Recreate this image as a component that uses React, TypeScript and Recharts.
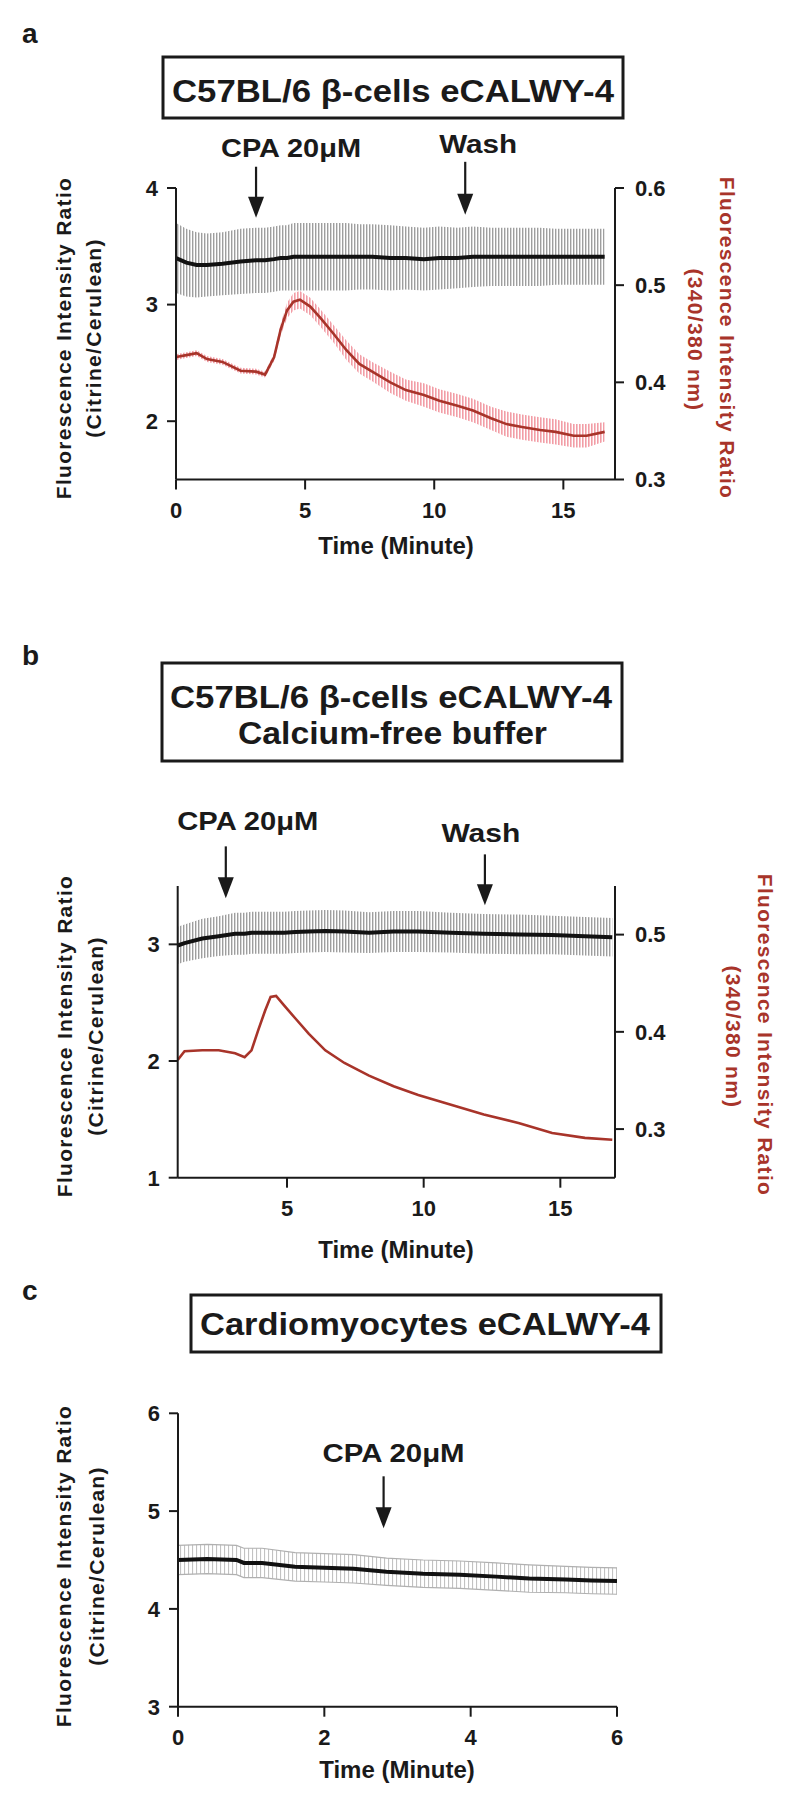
import React from 'react';
import { ComposedChart, Line, Area, XAxis, YAxis, ReferenceDot } from 'recharts';

const FONT = "'Liberation Sans', Arial, Helvetica, sans-serif";
const INK = '#1a1a1a';
const RED = '#a8342a';

// ---------- Panel a ----------
const timeA = [0, 0.4, 0.8, 1.2, 1.8, 2.5, 3.1, 3.45, 3.8, 4.05, 4.3, 4.55, 4.8, 5.2, 5.6, 6.1, 6.6, 7.1, 7.6, 8.3, 8.9, 9.6, 10.2, 10.9, 11.5, 12.2, 12.8, 13.4, 14.1, 14.7, 15.4, 15.9, 16.6];
const zincA = [3.40, 3.36, 3.34, 3.34, 3.35, 3.37, 3.38, 3.38, 3.39, 3.40, 3.40, 3.41, 3.41, 3.41, 3.41, 3.41, 3.41, 3.41, 3.41, 3.40, 3.40, 3.39, 3.40, 3.40, 3.41, 3.41, 3.41, 3.41, 3.41, 3.41, 3.41, 3.41, 3.41];
const zincSemA = [0.30, 0.29, 0.28, 0.27, 0.27, 0.28, 0.28, 0.28, 0.28, 0.28, 0.28, 0.29, 0.29, 0.29, 0.29, 0.29, 0.29, 0.28, 0.28, 0.28, 0.27, 0.27, 0.27, 0.26, 0.26, 0.25, 0.25, 0.25, 0.25, 0.24, 0.24, 0.24, 0.24];
const calciumA = [0.426, 0.428, 0.430, 0.424, 0.421, 0.412, 0.411, 0.408, 0.426, 0.454, 0.474, 0.483, 0.485, 0.478, 0.466, 0.450, 0.433, 0.419, 0.411, 0.400, 0.392, 0.387, 0.381, 0.376, 0.371, 0.363, 0.357, 0.354, 0.351, 0.349, 0.345, 0.345, 0.349];
const calciumSemA = [0.003, 0.003, 0.003, 0.003, 0.003, 0.003, 0.003, 0.003, 0.004, 0.006, 0.008, 0.009, 0.009, 0.009, 0.009, 0.009, 0.010, 0.010, 0.010, 0.011, 0.011, 0.012, 0.012, 0.012, 0.012, 0.012, 0.013, 0.013, 0.013, 0.013, 0.012, 0.012, 0.010];

// ---------- Panel b ----------
const timeB = [1.0, 1.25, 1.9, 2.5, 3.1, 3.45, 3.7, 3.95, 4.2, 4.4, 4.6, 4.9, 5.3, 5.8, 6.4, 7.1, 8.0, 8.9, 9.8, 11.0, 12.2, 13.5, 14.7, 15.9, 16.9];
const zincB = [2.99, 3.01, 3.05, 3.07, 3.09, 3.09, 3.10, 3.10, 3.10, 3.10, 3.10, 3.10, 3.105, 3.11, 3.115, 3.11, 3.10, 3.11, 3.11, 3.10, 3.09, 3.085, 3.08, 3.07, 3.06];
const zincSemB = [0.16, 0.16, 0.17, 0.17, 0.18, 0.18, 0.18, 0.18, 0.18, 0.18, 0.18, 0.18, 0.18, 0.18, 0.18, 0.18, 0.175, 0.175, 0.175, 0.17, 0.17, 0.17, 0.165, 0.165, 0.165];
const calciumB = [0.371, 0.380, 0.381, 0.381, 0.378, 0.374, 0.381, 0.402, 0.422, 0.436, 0.437, 0.427, 0.414, 0.398, 0.381, 0.368, 0.355, 0.344, 0.335, 0.325, 0.315, 0.306, 0.296, 0.291, 0.289];

// ---------- Panel c ----------
const timeC = [0, 0.4, 0.8, 0.9, 1.15, 1.6, 2.0, 2.4, 2.85, 3.35, 3.85, 4.35, 4.8, 5.3, 5.65, 6.0];
const zincC = [4.50, 4.51, 4.50, 4.47, 4.47, 4.43, 4.42, 4.41, 4.38, 4.36, 4.35, 4.33, 4.31, 4.30, 4.29, 4.285];
const zincSemC = [0.15, 0.15, 0.15, 0.15, 0.15, 0.145, 0.145, 0.145, 0.14, 0.14, 0.14, 0.14, 0.14, 0.135, 0.135, 0.135];

// ---------- Ticks ----------
const xTicksA = [0, 5, 10, 15];
const yTicksA = [2, 3, 4];
const y2TicksA = [0.3, 0.4, 0.5, 0.6];
const xTicksB = [5, 10, 15];
const yTicksB = [1, 2, 3];
const y2TicksB = [0.3, 0.4, 0.5];
const xTicksC = [0, 2, 4, 6];
const yTicksC = [3, 4, 5, 6];

const rowsA = timeA.map((t, i) => ({
  t,
  zinc: zincA[i],
  zincBand: [zincA[i] - zincSemA[i], zincA[i] + zincSemA[i]],
  calcium: calciumA[i],
  calciumBand: [calciumA[i] - calciumSemA[i], calciumA[i] + calciumSemA[i]],
}));
const rowsB = timeB.map((t, i) => ({
  t,
  zinc: zincB[i],
  zincBand: [zincB[i] - zincSemB[i], zincB[i] + zincSemB[i]],
  calcium: calciumB[i],
}));
const rowsC = timeC.map((t, i) => ({
  t,
  zinc: zincC[i],
  zincBand: [zincC[i] - zincSemC[i], zincC[i] + zincSemC[i]],
}));

const tickStyle = { fontSize: 22, fontWeight: 'bold', fill: INK, fontFamily: FONT };
const lineStyle = { stroke: INK, strokeWidth: 2 };

const makeArrow = (label: string, shaft: number, dx: number, dy: number, len: number) => (props: any) => {
  const { cx, cy } = props;
  if (cx == null || cy == null) return <g />;
  return (
    <g>
      <line x1={cx} y1={cy - shaft} x2={cx} y2={cy - 16} stroke={INK} strokeWidth={2.2} />
      <polygon points={`${cx - 8},${cy - 21} ${cx + 8},${cy - 21} ${cx},${cy}`} fill={INK} />
      <text x={cx + dx} y={cy - dy} textAnchor="middle" fontFamily={FONT} fontWeight="bold" fontSize={26} fill={INK} textLength={len} lengthAdjust="spacingAndGlyphs">
        {label}
      </text>
    </g>
  );
};

const Patterns = () => (
  <defs>
    <pattern id="greyStripes" patternUnits="userSpaceOnUse" width="3" height="10">
      <rect x="0" y="0" width="1.4" height="10" fill="#9e9e9e" />
    </pattern>
    <pattern id="pinkStripes" patternUnits="userSpaceOnUse" width="3" height="10">
      <rect x="0" y="0" width="1.6" height="10" fill="#f08c96" />
    </pattern>
    <pattern id="lightStripes" patternUnits="userSpaceOnUse" width="4" height="10">
      <rect x="0" y="0" width="1.1" height="10" fill="#c2c2c2" />
    </pattern>
  </defs>
);

const boxText = { fontFamily: FONT, fontWeight: 'bold' as const, fill: INK };
const yLab = { fontFamily: FONT, fontWeight: 'bold' as const, fontSize: 21, letterSpacing: 1.3 };

export default function App() {
  return (
    <div style={{ position: 'absolute', left: 0, top: 0, width: 800, height: 1809, background: '#fff', overflow: 'hidden' }}>
      {/* Panel a chart */}
      <div style={{ position: 'absolute', left: 0, top: 90 }}>
        <ComposedChart width={800} height={500} data={rowsA} margin={{ top: 98, left: 116, right: 125, bottom: 80.5 }}>
          <Patterns />
          <XAxis dataKey="t" type="number" domain={[0, 17]} ticks={xTicksA} allowDataOverflow height={30}
            tick={tickStyle} tickSize={10} tickMargin={13} axisLine={lineStyle} tickLine={lineStyle} />
          <YAxis yAxisId="L" orientation="left" width={60} domain={[1.5, 4]} ticks={yTicksA} allowDataOverflow
            tick={tickStyle} tickSize={9} tickMargin={9} axisLine={lineStyle} tickLine={lineStyle} />
          <YAxis yAxisId="R" orientation="right" width={60} domain={[0.3, 0.6]} ticks={y2TicksA} allowDataOverflow
            tick={tickStyle} tickSize={9} tickMargin={11} axisLine={lineStyle} tickLine={lineStyle}
            tickFormatter={(v: number) => v.toFixed(1)} />
          <Area yAxisId="L" dataKey="zincBand" stroke="none" fill="url(#greyStripes)" fillOpacity={1} isAnimationActive={false} dot={false} activeDot={false} />
          <Area yAxisId="R" dataKey="calciumBand" stroke="none" fill="url(#pinkStripes)" fillOpacity={0.85} isAnimationActive={false} dot={false} activeDot={false} />
          <Line yAxisId="R" dataKey="calcium" stroke={RED} strokeWidth={2.6} dot={false} activeDot={false} isAnimationActive={false} />
          <Line yAxisId="L" dataKey="zinc" stroke="#111" strokeWidth={4} dot={false} activeDot={false} isAnimationActive={false} />
          <ReferenceDot yAxisId="L" x={3.1} y={3.745} ifOverflow="visible" shape={makeArrow('CPA 20\u03BCM', 51, 35, 61, 140)} />
          <ReferenceDot yAxisId="L" x={11.2} y={3.77} ifOverflow="visible" shape={makeArrow('Wash', 53, 13, 62, 78)} />
        </ComposedChart>
      </div>

      {/* Panel b chart */}
      <div style={{ position: 'absolute', left: 0, top: 780 }}>
        <ComposedChart width={800} height={500} data={rowsB} margin={{ top: 106, left: 117.7, right: 125, bottom: 72.3 }}>
          <Patterns />
          <XAxis dataKey="t" type="number" domain={[1, 17]} ticks={xTicksB} allowDataOverflow height={30}
            tick={tickStyle} tickSize={10} tickMargin={13} axisLine={lineStyle} tickLine={lineStyle} />
          <YAxis yAxisId="L" orientation="left" width={60} domain={[1, 3.5]} ticks={yTicksB} allowDataOverflow
            tick={tickStyle} tickSize={9} tickMargin={9} axisLine={lineStyle} tickLine={lineStyle} />
          <YAxis yAxisId="R" orientation="right" width={60} domain={[0.25, 0.55]} ticks={y2TicksB} allowDataOverflow
            tick={tickStyle} tickSize={9} tickMargin={11} axisLine={lineStyle} tickLine={lineStyle}
            tickFormatter={(v: number) => v.toFixed(1)} />
          <Area yAxisId="L" dataKey="zincBand" stroke="none" fill="url(#greyStripes)" fillOpacity={1} isAnimationActive={false} dot={false} activeDot={false} />
          <Line yAxisId="R" dataKey="calcium" stroke={RED} strokeWidth={2.6} dot={false} activeDot={false} isAnimationActive={false} />
          <Line yAxisId="L" dataKey="zinc" stroke="#111" strokeWidth={4} dot={false} activeDot={false} isAnimationActive={false} />
          <ReferenceDot yAxisId="L" x={2.76} y={3.394} ifOverflow="visible" shape={makeArrow('CPA 20\u03BCM', 52, 22, 68, 141)} />
          <ReferenceDot yAxisId="L" x={12.24} y={3.334} ifOverflow="visible" shape={makeArrow('Wash', 51, -4, 63, 79)} />
        </ComposedChart>
      </div>

      {/* Panel c chart */}
      <div style={{ position: 'absolute', left: 0, top: 1340 }}>
        <ComposedChart width={800} height={460} data={rowsC} margin={{ top: 73.3, left: 118, right: 183, bottom: 63.3 }}>
          <Patterns />
          <XAxis dataKey="t" type="number" domain={[0, 6]} ticks={xTicksC} allowDataOverflow height={30}
            tick={tickStyle} tickSize={10} tickMargin={13} axisLine={lineStyle} tickLine={lineStyle} />
          <YAxis yAxisId="L" orientation="left" width={60} domain={[3, 6]} ticks={yTicksC} allowDataOverflow
            tick={tickStyle} tickSize={9} tickMargin={9} axisLine={lineStyle} tickLine={lineStyle} />
          <Area yAxisId="L" dataKey="zincBand" stroke="#b0b0b0" strokeWidth={1.2} fill="url(#lightStripes)" fillOpacity={1} isAnimationActive={false} dot={false} activeDot={false} />
          <Line yAxisId="L" dataKey="zinc" stroke="#111" strokeWidth={4} dot={false} activeDot={false} isAnimationActive={false} />
          <ReferenceDot yAxisId="L" x={2.81} y={4.824} ifOverflow="visible" shape={makeArrow('CPA 20\u03BCM', 52, 10, 66, 142)} />
        </ComposedChart>
      </div>

      {/* Static annotations */}
      <svg width={800} height={1809} style={{ position: 'absolute', left: 0, top: 0, pointerEvents: 'none' }}>
        {/* panel letters */}
        <text x={22} y={43} {...boxText} fontSize={28}>a</text>
        <text x={22} y={665} {...boxText} fontSize={28}>b</text>
        <text x={22} y={1300} {...boxText} fontSize={28}>c</text>

        {/* title boxes */}
        <rect x={163} y={57} width={460} height={61} fill="none" stroke={INK} strokeWidth={3} />
        <text x={393} y={102} textAnchor="middle" {...boxText} fontSize={32} textLength={442} lengthAdjust="spacingAndGlyphs">C57BL/6 β-cells eCALWY-4</text>

        <rect x={162} y={663} width={460} height={98} fill="none" stroke={INK} strokeWidth={3} />
        <text x={391} y={708} textAnchor="middle" {...boxText} fontSize={31} textLength={442} lengthAdjust="spacingAndGlyphs">C57BL/6 β-cells eCALWY-4</text>
        <text x={392.5} y={744} textAnchor="middle" {...boxText} fontSize={31} textLength={309} lengthAdjust="spacingAndGlyphs">Calcium-free buffer</text>

        <rect x={191} y={1295} width={470} height={57} fill="none" stroke={INK} strokeWidth={3} />
        <text x={425} y={1335} textAnchor="middle" {...boxText} fontSize={32} textLength={450} lengthAdjust="spacingAndGlyphs">Cardiomyocytes eCALWY-4</text>

        {/* x axis titles */}
        <text x={396} y={554} textAnchor="middle" {...boxText} fontSize={24}>Time (Minute)</text>
        <text x={396} y={1258} textAnchor="middle" {...boxText} fontSize={24}>Time (Minute)</text>
        <text x={397} y={1778} textAnchor="middle" {...boxText} fontSize={24}>Time (Minute)</text>

        {/* left y titles */}
        <g fill={INK} style={yLab}>
          <text transform="translate(63,338) rotate(-90)" textAnchor="middle" dominantBaseline="central">Fluorescence Intensity Ratio</text>
          <text transform="translate(93,338) rotate(-90)" textAnchor="middle" dominantBaseline="central">(Citrine/Cerulean)</text>
          <text transform="translate(64,1036) rotate(-90)" textAnchor="middle" dominantBaseline="central">Fluorescence Intensity Ratio</text>
          <text transform="translate(95,1036) rotate(-90)" textAnchor="middle" dominantBaseline="central">(Citrine/Cerulean)</text>
          <text transform="translate(63,1566) rotate(-90)" textAnchor="middle" dominantBaseline="central">Fluorescence Intensity Ratio</text>
          <text transform="translate(96,1566) rotate(-90)" textAnchor="middle" dominantBaseline="central">(Citrine/Cerulean)</text>
        </g>
        {/* right y titles */}
        <g fill={RED} style={yLab}>
          <text transform="translate(727,338) rotate(90)" textAnchor="middle" dominantBaseline="central">Fluorescence Intensity Ratio</text>
          <text transform="translate(695,340) rotate(90)" textAnchor="middle" dominantBaseline="central">(340/380 nm)</text>
          <text transform="translate(765,1035) rotate(90)" textAnchor="middle" dominantBaseline="central">Fluorescence Intensity Ratio</text>
          <text transform="translate(733,1037) rotate(90)" textAnchor="middle" dominantBaseline="central">(340/380 nm)</text>
        </g>
      </svg>
    </div>
  );
}
